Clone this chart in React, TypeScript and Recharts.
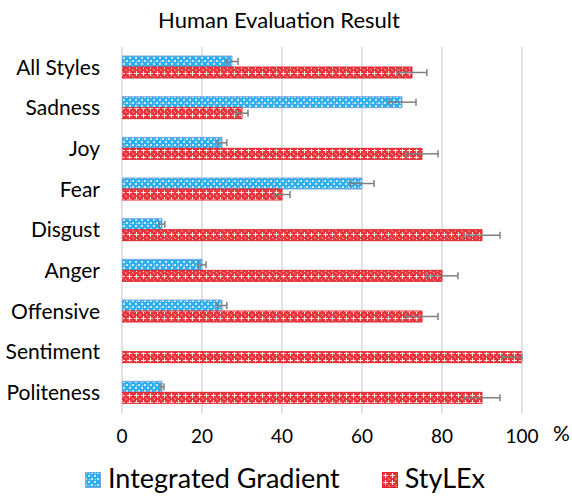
import React from 'react';
import { BarChart, Bar, XAxis, YAxis, CartesianGrid, ErrorBar, Legend, Label } from 'recharts';

const categories = ['All Styles', 'Sadness', 'Joy', 'Fear', 'Disgust', 'Anger', 'Offensive', 'Sentiment', 'Politeness'];
const integratedGradient = [27.5, 70, 25, 60, 10, 20, 25, 0, 10];
// [minus, plus] error extents
const integratedGradientErr = [[1.5, 1.5], [3.5, 3.5], [1.2, 1.2], [3, 3], [0.7, 0.7], [1, 1], [1.2, 1.2], [0, 0], [0.5, 0.5]];
const stylex = [72.5, 30, 75, 40, 90, 80, 75, 100, 90];
const stylexErr = [[3.7, 3.7], [1.5, 1.5], [4, 4], [2, 2], [4.5, 4.5], [4, 4], [4, 4], [5, 0], [4.5, 4.5]];
const xTicks = [0, 20, 40, 60, 80, 100];
const seriesNames = ['Integrated Gradient', 'StyLEx'];
const title = 'Human Evaluation Result';

const data = categories.map((c, i) => ({
  name: c,
  ig: integratedGradient[i],
  igErr: integratedGradientErr[i],
  sx: stylex[i],
  sxErr: stylexErr[i],
}));

const FONT = 'Lato, "Open Sans", sans-serif';
const BLUE_STROKE = '#7aa6e0';
const RED_STROKE = '#e0242c';

const Patterns = ({ prefix }: { prefix: string }) => (
  <defs>
    <pattern id={`${prefix}-blue`} width="6" height="6" patternUnits="userSpaceOnUse">
      <rect width="6" height="6" fill="#2eaeee" />
      <rect x="0" y="0" width="2" height="2" fill="#c4eafc" />
      <rect x="3" y="3" width="2" height="2" fill="#c4eafc" />
      <rect x="4" y="1" width="1" height="1" fill="#ffffff" opacity="0.7" />
    </pattern>
    <pattern id={`${prefix}-red`} width="7" height="7" patternUnits="userSpaceOnUse">
      <rect width="7" height="7" fill="#e8363d" />
      <rect x="0" y="0" width="1" height="1" fill="#f6a3a7" />
      <rect x="6" y="6" width="1" height="1" fill="#f6a3a7" />
      <rect x="3" y="1" width="1" height="5" fill="#ffffff" opacity="0.85" />
      <rect x="1" y="3" width="5" height="1" fill="#ffffff" opacity="0.85" />
    </pattern>
  </defs>
);

const LegendContent = () => (
  <div
    style={{
      height: 35,
      display: 'flex',
      justifyContent: 'center',
      alignItems: 'flex-start',
      fontFamily: FONT,
      fontSize: 27,
      color: '#000',
      paddingLeft: 48,
    }}
  >
    {seriesNames.map((n, i) => (
      <div
        key={n}
        style={{ display: 'flex', alignItems: 'center', marginLeft: i === 0 ? 0 : 42 }}
      >
        <svg width={16} height={16} style={{ marginRight: 7, marginTop: 4 }}>
          <Patterns prefix={`lg${i}`} />
          <rect
            x={0.5}
            y={0.5}
            width={15}
            height={15}
            fill={`url(#lg${i}-${i === 0 ? 'blue' : 'red'})`}
            stroke={i === 0 ? BLUE_STROKE : RED_STROKE}
          />
        </svg>
        <span style={{ lineHeight: 'normal' }}>{n}</span>
      </div>
    ))}
  </div>
);

export default function App() {
  return (
    <div style={{ position: 'absolute', left: 0, top: 0, width: 572, height: 496, background: '#fff' }}>
      <div
        style={{
          position: 'absolute',
          top: 6,
          left: 0,
          width: 558,
          textAlign: 'center',
          fontFamily: FONT,
          fontSize: 22,
          color: '#000',
          lineHeight: '28px',
        }}
      >
        {title}
      </div>
      <BarChart
        width={572}
        height={496}
        data={data}
        layout="vertical"
        margin={{ top: 47, right: 50, bottom: 0, left: 0 }}
        barSize={11}
        barGap={0}
      >
        <Patterns prefix="bar" />
        <CartesianGrid horizontal={false} vertical={true} stroke="#d9d9d9" strokeWidth={1.5} />
        <XAxis
          type="number"
          domain={[0, 100]}
          allowDataOverflow={true}
          ticks={xTicks}
          axisLine={false}
          tickLine={false}
          tickSize={6}
          tickMargin={11}
          height={48}
          tick={{ fill: '#000', fontSize: 19, fontFamily: FONT }}
        >
          <Label value="%" position="right" offset={31} dy={-3} style={{ fill: '#000', fontSize: 21, fontFamily: FONT }} />
        </XAxis>
        <YAxis
          type="category"
          dataKey="name"
          width={122}
          axisLine={false}
          tickLine={false}
          tickSize={6}
          tickMargin={16}
          interval={0}
          tick={{ fill: '#000', fontSize: 21, fontFamily: FONT }}
        />
        <Legend verticalAlign="bottom" content={<LegendContent />} />
        <Bar
          dataKey="ig"
          name={seriesNames[0]}
          fill="url(#bar-blue)"
          stroke={BLUE_STROKE}
          strokeWidth={1}
          isAnimationActive={false}
        >
          <ErrorBar dataKey="igErr" direction="x" width={3.5} stroke="#7f7f7f" strokeWidth={1.5} />
        </Bar>
        <Bar
          dataKey="sx"
          name={seriesNames[1]}
          fill="url(#bar-red)"
          stroke={RED_STROKE}
          strokeWidth={1}
          isAnimationActive={false}
        >
          <ErrorBar dataKey="sxErr" direction="x" width={3.5} stroke="#7f7f7f" strokeWidth={1.5} />
        </Bar>
      </BarChart>
    </div>
  );
}
